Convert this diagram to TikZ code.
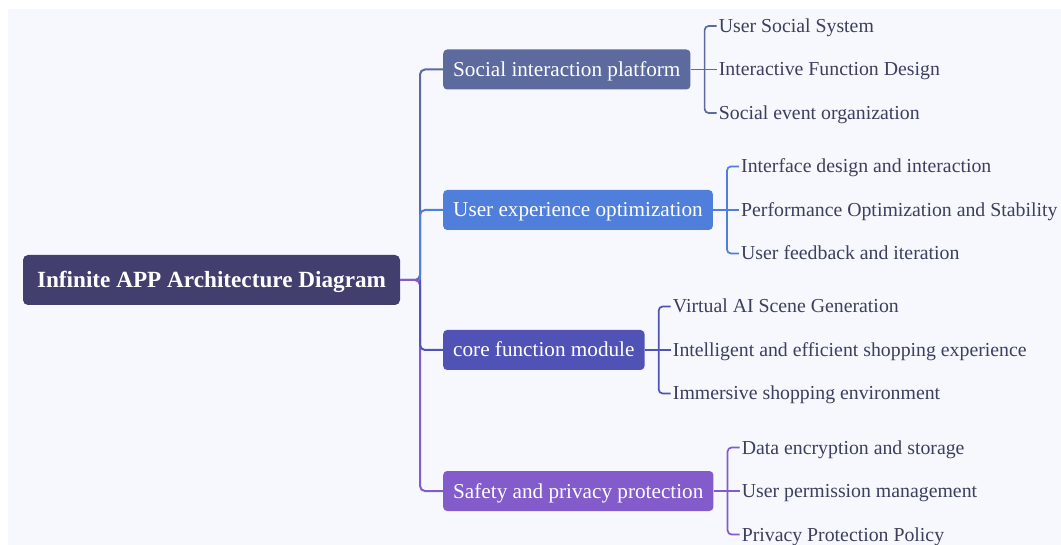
\documentclass[tikz,border=0pt]{standalone}
\usepackage{fontspec}
\setmainfont{Liberation Serif}
\begin{document}
\begin{tikzpicture}[x=1pt,y=-1pt,
  rootbox/.style={draw=none,fill=rootc,rounded corners=5pt,text=white,text height=19.4pt,text depth=5pt,
    font=\fontsize{23.2}{27}\selectfont\bfseries,minimum width=377pt,minimum height=50pt,inner sep=0pt},
  branchbox/.style={draw=none,fill=#1,rounded corners=4pt,text=white,text height=18pt,text depth=4pt,
    font=\fontsize{21.2}{25}\selectfont,minimum height=40pt,inner xsep=10pt,inner ysep=0pt,anchor=west},
  leaf/.style={text=leafc,text height=17pt,text depth=4pt,font=\fontsize{19.8}{23}\selectfont,
    inner xsep=2pt,inner ysep=0pt,anchor=west},
  link/.style={draw=#1,line width=2pt,rounded corners=5pt},
  twig/.style={draw=#1,line width=1.7pt,rounded corners=4pt},
]
\definecolor{panel}{HTML}{F6F8FD}
\definecolor{rootc}{HTML}{423E6E}
\definecolor{bA}{HTML}{5C6A9D}
\definecolor{bB}{HTML}{4F7EDB}
\definecolor{bC}{HTML}{5152B6}
\definecolor{bD}{HTML}{845BCB}
\definecolor{leafc}{HTML}{3C3F5E}

% page and panel
\fill[white] (0,0) rectangle (1061,545);
\fill[panel] (8,9) rectangle (1061,545);

% root
\node[rootbox] (root) at (211.5,280) {Infinite APP Architecture Diagram};

% main branches
\node[branchbox=bA] (sA) at (443,69.5) {Social interaction platform};
\node[branchbox=bB] (sB) at (443,210) {User experience optimization};
\node[branchbox=bC] (sC) at (443,350) {core function module};
\node[branchbox=bD] (sD) at (443,491) {Safety and privacy protection};

% trunk: longest links first, shorter ones on top
\coordinate (tr) at (420,280);
\draw[link=bA] (root.east) -- (tr) -- (tr |- sA.west) -- (sA.west);
\draw[link=bD] (root.east) -- (tr) -- (tr |- sD.west) -- (sD.west);
\draw[link=bB] (tr) -- (tr |- sB.west) -- (sB.west);
\draw[link=bC] (tr) -- (tr |- sC.west) -- (sC.west);
\draw[link=bD] (root.east) -- (tr);

% leaves
\foreach \s/\c/\la/\lb/\lc in {
  sA/bA/User Social System/Interactive Function Design/Social event organization,
  sB/bB/Interface design and interaction/Performance Optimization and Stability/User feedback and iteration,
  sC/bC/Virtual AI Scene Generation/Intelligent and efficient shopping experience/Immersive shopping environment,
  sD/bD/Data encryption and storage/User permission management/Privacy Protection Policy}{
  \coordinate (\s k) at ([xshift=14pt]\s.east);
  \node[leaf] (\s 1) at ([xshift=12pt,yshift=43.5pt]\s k) {\la};
  \node[leaf] (\s 2) at ([xshift=12pt]\s k) {\lb};
  \node[leaf] (\s 3) at ([xshift=12pt,yshift=-43.5pt]\s k) {\lc};
  \draw[twig=\c] (\s 1.west) -- (\s k |- \s 1.west) -- (\s k |- \s 3.west) -- (\s 3.west);
  \draw[twig=\c] (\s.east) -- (\s 2.west);
}
\end{tikzpicture}
\end{document}
